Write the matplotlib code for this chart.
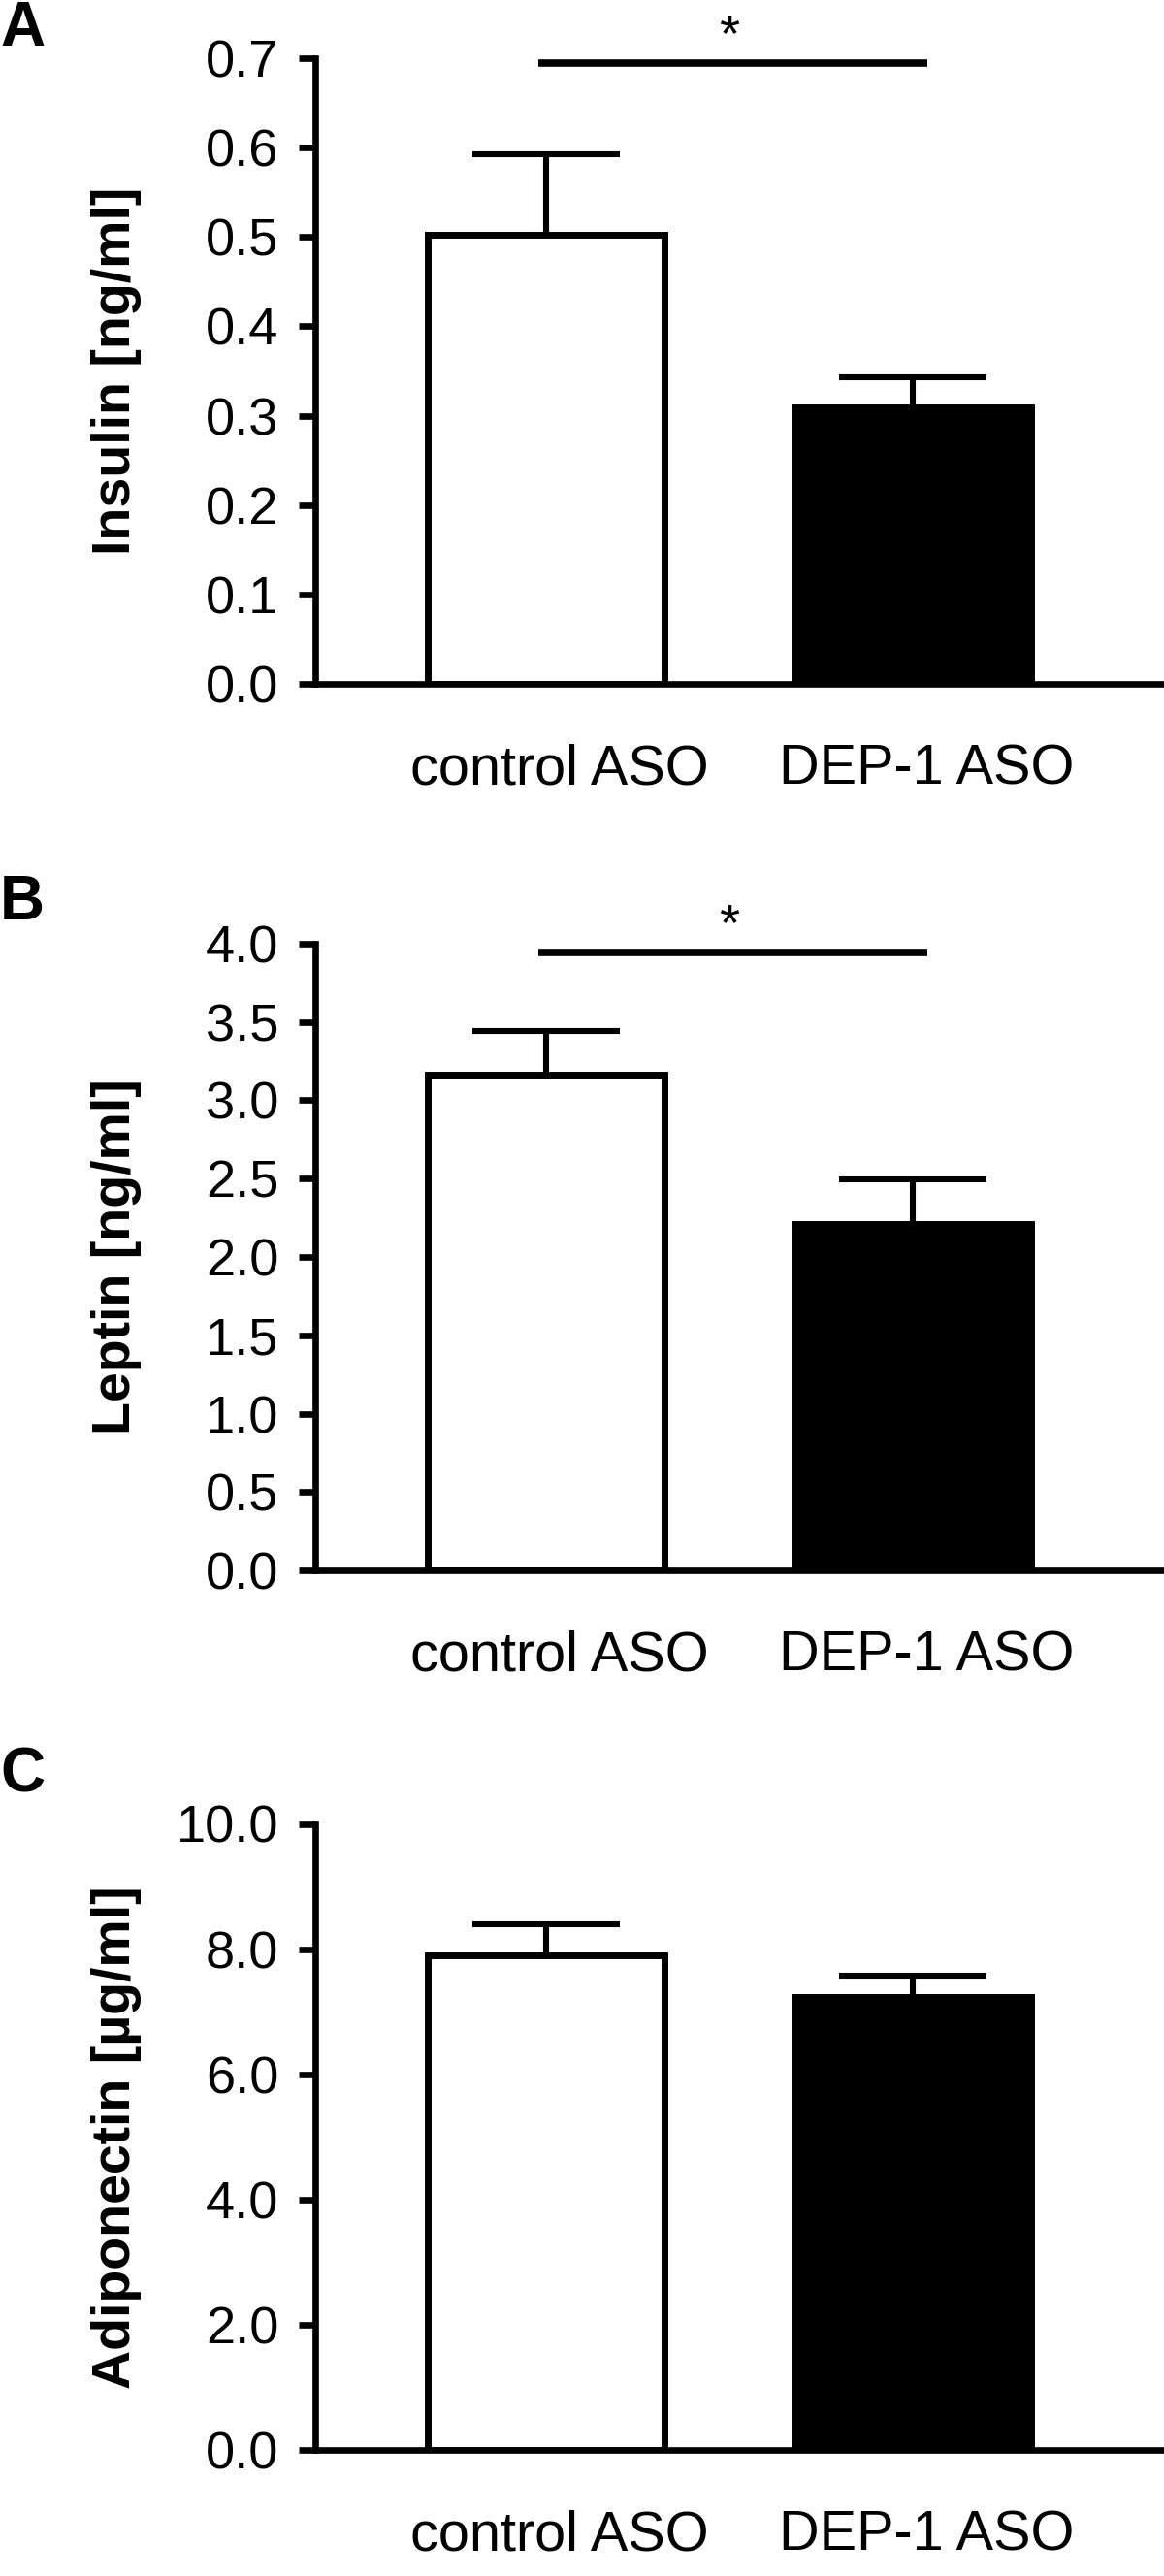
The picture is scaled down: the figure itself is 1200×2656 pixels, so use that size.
import matplotlib
matplotlib.use("Agg")
import matplotlib.pyplot as plt
from matplotlib.transforms import ScaledTranslation

plt.rcParams['font.family'] = ['Liberation Sans', 'DejaVu Sans']

groups = ["control ASO", "DEP-1 ASO"]
bar_colors = ["white", "black"]

insulin_mean = [0.502, 0.309]
insulin_sem = [0.091, 0.034]
insulin_ticks = [0.0, 0.1, 0.2, 0.3, 0.4, 0.5, 0.6, 0.7]

leptin_mean = [3.164, 2.21]
leptin_sem = [0.276, 0.285]
leptin_ticks = [0.0, 0.5, 1.0, 1.5, 2.0, 2.5, 3.0, 3.5, 4.0]

adipo_mean = [7.90, 7.24]
adipo_sem = [0.49, 0.33]
adipo_ticks = [0.0, 2.0, 4.0, 6.0, 8.0, 10.0]

# significance bar height (None = no bar)
insulin_sig = 0.695
leptin_sig = 3.944

W, H = 1200, 2656
fig = plt.figure(figsize=(W / 100, H / 100), dpi=100)

# letter, means, sems, ylabel, ticks, axes top/bottom (px), sig, letter top (px)
panels = [
    ("A", insulin_mean, insulin_sem, "Insulin [ng/ml]", insulin_ticks, 60, 705, insulin_sig, 0),
    ("B", leptin_mean, leptin_sem, "Leptin [ng/ml]", leptin_ticks, 973, 1619, leptin_sig, 901),
    ("C", adipo_mean, adipo_sem, "Adiponectin [µg/ml]", adipo_ticks, 1880.5, 2526, None, 1801),
]

lw = 4.8
x = [0, 1]
for letter, means, sems, ylabel, yticks, top_px, bot_px, sig, let_px in panels:
    ax = fig.add_axes([324.5 / W, 1 - bot_px / H, 1 - 324.5 / W, (bot_px - top_px) / H])
    ax.bar(x, means, width=0.645, color=bar_colors, edgecolor="black", linewidth=5, zorder=2)
    tops = [m + s for m, s in zip(means, sems)]
    ax.vlines(x, means, tops, color="black", lw=4.4, zorder=1)
    ax.hlines(tops, [xi - 0.2 for xi in x], [xi + 0.2 for xi in x], color="black", lw=4.4)

    ax.set_xlim(-0.631, 1.685)
    ax.set_ylim(yticks[0], yticks[-1])
    ax.set_yticks(yticks)
    ax.set_yticklabels([f"{t:.1f}" for t in yticks])
    ax.set_xticks(x)
    ax.set_xticklabels(groups)

    for s in ["top", "right"]:
        ax.spines[s].set_visible(False)
    for s in ["left", "bottom"]:
        ax.spines[s].set_linewidth(lw)
    ax.tick_params(axis="y", length=11.9, width=lw, labelsize=39, pad=15)
    ax.tick_params(axis="x", length=0, labelsize=41.5, pad=44)
    for lab in ax.get_xticklabels():
        lab.set_transform(lab.get_transform() + ScaledTranslation(0.14, 0, fig.dpi_scale_trans))

    ax.set_ylabel(ylabel, fontsize=40, fontweight="bold", va="center")
    ax.yaxis.set_label_coords((120 - 324.5) / (W - 324.5), 0.5)

    if sig is not None:
        ax.plot([-0.02, 1.04], [sig, sig], color="black", lw=5.5, clip_on=False, solid_capstyle="butt")
        ax.annotate("*", xy=(0.5, sig), xytext=(0, 9.3), textcoords="offset points",
                    ha="center", va="baseline", fontsize=39, annotation_clip=False)

    fig.text(0.0, 1 - let_px / H, letter, fontsize=46, fontweight="bold",
             ha="left", va="top")

fig.savefig("out.png", dpi=100)
